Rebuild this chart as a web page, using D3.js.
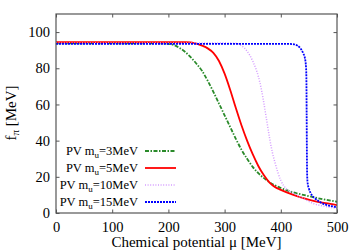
<!DOCTYPE html>
<html><head><meta charset="utf-8">
<script src="https://cdn.jsdelivr.net/npm/d3@7"></script>
<style>body{margin:0;background:#fff}svg{display:block}text{font-family:"Liberation Serif","Times New Roman",serif;fill:#000}</style>
</head><body>
<script>
const xTicks = [0,100,200,300,400,500];
const yTicks = [0,20,40,60,80,100];
const seriesNames = ["PV m|u|=3MeV","PV m|u|=5MeV","PV m|u|=10MeV","PV m|u|=15MeV"];

const mu3 = [0,100,180,200,210,220,230,240,250,260,270,280,290,300,310,320,330,340,350,360,370,380,400,420,440,460,480,500];
const f3  = [93.8,93.8,93.8,93.5,92.8,91.2,89,86,82.5,78.5,73,67,60.5,54,47.5,41,35,30,25.5,22,19.3,17,13.8,11.6,10,8.6,7.3,6.2];

const mu5 = [0,100,200,230,240,250,260,270,280,290,300,310,320,330,340,350,360,370,380,390,400,420,440,460,480,500];
const f5  = [94.5,94.5,94.5,94.5,94.3,93.6,92.5,91,88.5,84,77,68,58,48.5,40,32.5,26,20.8,16.8,14.3,12.8,10.3,8.2,6.6,5.4,4.4];

const mu10 = [0,100,200,300,320,330,340,350,360,365,370,375,380,385,390,400,410,420,440,460,480,500];
const f10  = [94,94,94,94,93.8,92.5,89.5,84,75.5,69,60.5,51,41.5,33.5,27.5,18,13.3,11.3,8,5,3.6,2.6];

const mu15 = [0,100,200,300,400,420,430,435,440,443,445,445.5,446,446.5,447,448,450,455,460,470,480,490,500];
const f15  = [93.5,93.5,93.5,93.5,93.5,93.4,92.5,91,88.2,85.5,80,75,55,30,20,16,13.5,10,8.3,6,4.6,3.8,3.1];

const W=358,H=251;
const m={l:56,r:21,t:14,b:38};
const svg=d3.select("body").append("svg").attr("width",W).attr("height",H);
const x=d3.scaleLinear().domain([0,500]).range([m.l,W-m.r]);
const y=d3.scaleLinear().domain([0,110]).range([H-m.b,m.t]);

const styles=[
 {c:"#2a8a2a",w:1.8,d:"4,1.5,1.5,1.5"},
 {c:"#ff0000",w:1.8,d:null},
 {c:"#d49cff",w:1.5,d:"1,1.6"},
 {c:"#0000ff",w:1.8,d:"2,1"}
];
const data=[[mu3,f3],[mu5,f5],[mu10,f10],[mu15,f15]];

svg.append("clipPath").attr("id","c").append("rect")
 .attr("x",m.l).attr("y",m.t).attr("width",W-m.l-m.r).attr("height",H-m.t-m.b);

const line=d3.line().x(d=>x(d[0])).y(d=>y(d[1])).curve(d3.curveMonotoneX);
const g=svg.append("g").attr("clip-path","url(#c)");
data.forEach((s,i)=>{
  const pts=s[0].map((v,j)=>[v,s[1][j]]);
  g.append("path").attr("d",line(pts)).attr("fill","none")
   .attr("stroke",styles[i].c).attr("stroke-width",styles[i].w)
   .attr("stroke-dasharray",styles[i].d);
});

const axC="#555";
const tl=3.5;
svg.append("g").attr("transform",`translate(0,${H-m.b})`)
  .call(d3.axisBottom(x).tickValues(xTicks).tickSize(-tl).tickPadding(6))
  .call(a=>{a.select(".domain").remove();a.selectAll("line").attr("stroke",axC);
    a.selectAll("text").attr("font-size",14.5).attr("font-family","Liberation Serif").attr("dy","0.9em");});
svg.append("g").attr("transform",`translate(0,${m.t})`)
  .call(d3.axisTop(x).tickValues(xTicks).tickSize(-tl).tickFormat(""))
  .call(a=>{a.select(".domain").remove();a.selectAll("line").attr("stroke",axC);});
svg.append("g").attr("transform",`translate(${m.l},0)`)
  .call(d3.axisLeft(y).tickValues(yTicks).tickSize(-tl).tickPadding(6))
  .call(a=>{a.select(".domain").remove();a.selectAll("line").attr("stroke",axC);
    a.selectAll("text").attr("font-size",14.5).attr("font-family","Liberation Serif");});
svg.append("g").attr("transform",`translate(${W-m.r},0)`)
  .call(d3.axisRight(y).tickValues(yTicks).tickSize(-tl).tickFormat(""))
  .call(a=>{a.select(".domain").remove();a.selectAll("line").attr("stroke",axC);});
svg.append("rect").attr("x",m.l).attr("y",m.t).attr("width",W-m.l-m.r).attr("height",H-m.t-m.b)
  .attr("fill","none").attr("stroke",axC).attr("stroke-width",1.2);

const legY=[151,168,185,202];
seriesNames.forEach((n,i)=>{
  const p=n.split("|");
  const t=svg.append("text").attr("x",138).attr("y",legY[i]).attr("dy","0.33em")
    .attr("text-anchor","end").attr("font-size",12.5);
  t.append("tspan").text(p[0]);
  t.append("tspan").text(p[1]).attr("font-size",9).attr("dy",3);
  t.append("tspan").text(p[2]).attr("dy",-3);
  svg.append("line").attr("x1",145).attr("x2",176).attr("y1",legY[i]).attr("y2",legY[i])
    .attr("stroke",styles[i].c).attr("stroke-width",styles[i].w).attr("stroke-dasharray",styles[i].d);
});

svg.append("text").attr("x",(m.l+W-m.r)/2).attr("y",246.5).attr("text-anchor","middle")
  .attr("font-size",15).text("Chemical potential μ [MeV]");
const yl=svg.append("text").attr("transform","translate(16,113) rotate(-90)").attr("text-anchor","middle").attr("font-size",15);
yl.append("tspan").text("f");
yl.append("tspan").text("π").attr("font-size",11).attr("dy",3);
yl.append("tspan").text(" [MeV]").attr("dy",-3);
</script>
</body></html>
